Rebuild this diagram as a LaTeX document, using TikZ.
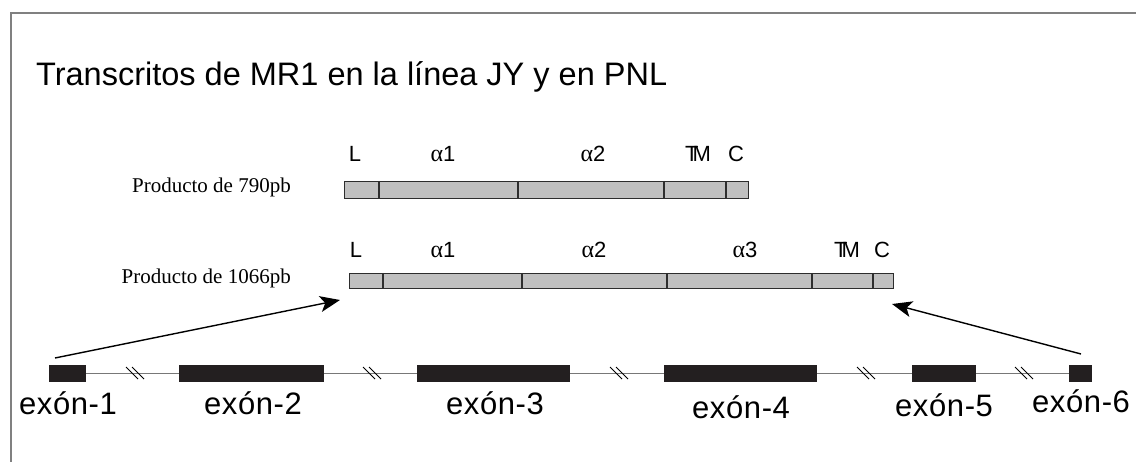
\documentclass[tikz,border=0pt]{standalone}
\usepackage{fontspec}
\setmainfont{Liberation Sans}
\newfontfamily\timesf{Liberation Serif}
\usetikzlibrary{arrows.meta}
\definecolor{framec}{RGB}{128,128,128}
\definecolor{barfill}{RGB}{192,192,192}
\definecolor{barline}{RGB}{45,45,45}
\definecolor{exonc}{RGB}{35,31,32}
\definecolor{intronc}{RGB}{120,120,120}
\newcommand{\alf}{{\timesf\fontsize{24}{26}\selectfont α}}
\begin{document}
\begin{tikzpicture}[x=1pt,y=-1pt,
  segbar/.style={draw=barline, fill=barfill, line width=1.3pt, inner sep=0pt, anchor=north west},
  divider/.style={draw=barline, line width=1.3pt},
  dlabel/.style={anchor=base, inner sep=0pt, font=\fontsize{22}{24}\selectfont},
  prod/.style={anchor=base east, inner sep=0pt, font=\timesf\fontsize{21}{24}\selectfont},
  exon/.style={fill=exonc, draw=none, inner sep=0pt, anchor=north west, minimum height=17pt},
  exlabel/.style={anchor=base, inner sep=0pt, font=\fontsize{31}{34}\selectfont\addfontfeature{LetterSpace=2}},
  intron/.style={draw=intronc, line width=1.3pt},
  brk/.style={draw=black, line width=0.9pt},
  arr/.style={draw=black, line width=1.4pt, -{Stealth[length=20pt,width=16pt,inset=5pt]}}
]
\useasboundingbox (0,0) rectangle (1136,462);
% frame
\draw[framec, line width=2pt] (1136,13) -- (11,13) -- (11,462);
% title
\node[anchor=base west, inner sep=0pt, font=\fontsize{32.5}{36}\selectfont] (title) at (36,86) {Transcritos de MR1 en la línea JY y en PNL};

% product 790
\node[prod] (p790) at (291,193) {Producto de 790pb};
\node[segbar, minimum width=404pt, minimum height=17pt] (bar1) at (344,181) {};
\foreach \xx in {379,518,664,726} \draw[divider] (\xx,181) -- (\xx,198);
\node[dlabel] (l1L) at (355,162) {L};
\node[dlabel] (l1a1) at (443,162) {\alf1};
\node[dlabel] (l1a2) at (593,162) {\alf2};
\node[dlabel] (l1TM) at (698,162) {T\kern-6pt M};
\node[dlabel] (l1C) at (736,162) {C};

% product 1066
\node[prod] (p1066) at (291,284) {Producto de 1066pb};
\node[segbar, minimum width=544pt, minimum height=15pt] (bar2) at (349,273) {};
\foreach \xx in {383,522,667,812,873} \draw[divider] (\xx,273) -- (\xx,288);
\node[dlabel] (l2L) at (356,258) {L};
\node[dlabel] (l2a1) at (443,258) {\alf1};
\node[dlabel] (l2a2) at (594,258) {\alf2};
\node[dlabel] (l2a3) at (745,258) {\alf3};
\node[dlabel] (l2TM) at (847,258) {T\kern-6pt M};
\node[dlabel] (l2C) at (882,258) {C};

% gene
\node[exon, minimum width=37pt] (ex1) at (49,365) {};
\node[exon, minimum width=145pt] (ex2) at (179,365) {};
\node[exon, minimum width=153pt] (ex3) at (417,365) {};
\node[exon, minimum width=153pt] (ex4) at (664,365) {};
\node[exon, minimum width=64pt] (ex5) at (912,365) {};
\node[exon, minimum width=23pt] (ex6) at (1069,365) {};
\draw[intron] (ex1.east) -- (ex2.west);
\draw[intron] (ex2.east) -- (ex3.west);
\draw[intron] (ex3.east) -- (ex4.west);
\draw[intron] (ex4.east) -- (ex5.west);
\draw[intron] (ex5.east) -- (ex6.west);
\foreach \cx in {135,372,619,866,1024} {
  \draw[brk] (\cx-9,367) -- (\cx+3,379);
  \draw[brk] (\cx-3,367) -- (\cx+9,379);
}
\node[exlabel] (t1) at (68,415) {exón-1};
\node[exlabel] (t2) at (253,415) {exón-2};
\node[exlabel] (t3) at (495,415) {exón-3};
\node[exlabel] (t4) at (741,419) {exón-4};
\node[exlabel] (t5) at (944,417) {exón-5};
\node[exlabel] (t6) at (1081,413) {exón-6};

% arrows
\coordinate (a1s) at (55,358);
\coordinate (a1e) at (340,300);
\coordinate (a2s) at (1081,354);
\coordinate (a2e) at (892,304);
\draw[arr] (a1s) -- (a1e);
\draw[arr] (a2s) -- (a2e);
\end{tikzpicture}
\end{document}
